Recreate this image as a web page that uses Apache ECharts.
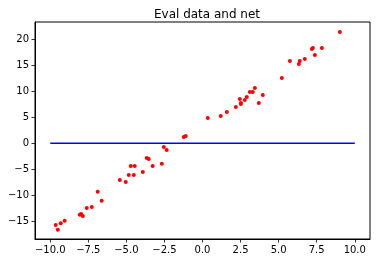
<!DOCTYPE html>
<html><head><meta charset="utf-8">
<script src="https://cdn.jsdelivr.net/npm/echarts@6/dist/echarts.min.js"></script>
<style>html,body{margin:0;padding:0;background:#fff}#c{width:377px;height:264px}</style>
</head><body><div id="c"></div>
<script>
const titleText = "Eval data and net";
const pointX = [-9.64,-9.5,-9.31,-9.05,-8.06,-7.97,-7.86,-7.60,-7.27,-6.88,-6.62,-5.43,-5.04,-4.84,-4.71,-4.51,-4.45,-3.92,-3.66,-3.53,-3.27,-2.67,-2.54,-2.35,-1.23,-1.10,
  0.35,1.20,1.60,2.19,2.45,2.52,2.52,2.78,2.91,3.11,3.30,3.44,3.70,3.96,5.21,5.74,6.33,6.39,6.72,7.18,7.25,7.38,7.84,9.02];
const pointY = [-15.7,-16.6,-15.35,-14.9,-13.75,-13.6,-14.0,-12.46,-12.27,-9.33,-11.06,-7.08,-7.47,-6.12,-4.39,-6.12,-4.39,-5.54,-2.85,-3.04,-4.39,-3.94,-0.73,-1.31,1.19,1.38,
  4.85,5.23,6.0,6.96,8.5,7.73,7.54,8.31,8.88,9.85,9.85,10.62,7.73,9.27,12.54,15.81,15.23,15.81,16.19,18.12,18.31,16.96,18.31,21.38];
const netX = [-10, 10];
const netY = [0, 0];
const xTicks = [-10, -7.5, -5, -2.5, 0, 2.5, 5, 7.5, 10];
const yTicks = [-15, -10, -5, 0, 5, 10, 15, 20];

const fmt = (v, d) => (v < 0 ? '\u2212' : '') + Math.abs(v).toFixed(d);
const font = 'DejaVu Sans';
const chart = echarts.init(document.getElementById('c'), null, {renderer: 'canvas'});
chart.setOption({
  animation: false,
  title: {text: titleText, left: 202, top: 4, textAlign: 'center',
    textStyle: {fontFamily: font, fontSize: 12, fontWeight: 'normal', color: '#000'}},
  grid: {left: 35, right: 7, top: 22, bottom: 25, show: true, borderColor: '#000', borderWidth: 1, backgroundColor: 'transparent'},
  xAxis: {type: 'value', min: -11, max: 11,
    axisLine: {show: true, onZero: false, lineStyle: {color: '#000', width: 1}},
    splitLine: {show: false},
    axisTick: {show: true, length: 3.5, customValues: xTicks, lineStyle: {color: '#000', width: 0.8}},
    axisLabel: {customValues: xTicks, margin: 6, color: '#000', fontFamily: font, fontSize: 10, formatter: v => fmt(v, 1)}},
  yAxis: {type: 'value', min: -18.4, max: 23.3,
    axisLine: {show: true, onZero: false, lineStyle: {color: '#000', width: 1}},
    splitLine: {show: false},
    axisTick: {show: true, length: 3.5, customValues: yTicks, lineStyle: {color: '#000', width: 0.8}},
    axisLabel: {customValues: yTicks, margin: 6, color: '#000', fontFamily: font, fontSize: 10, formatter: v => fmt(v, 0)}},
  series: [
    {type: 'line', data: netX.map((x, i) => [x, netY[i]]), symbol: 'none',
      lineStyle: {color: '#0000ff', width: 1.5}, z: 2},
    {type: 'scatter', data: pointX.map((x, i) => [x, pointY[i]]), symbol: 'circle', symbolSize: 4,
      itemStyle: {color: '#ff0000', opacity: 1}, z: 3}
  ]
});
</script></body></html>
